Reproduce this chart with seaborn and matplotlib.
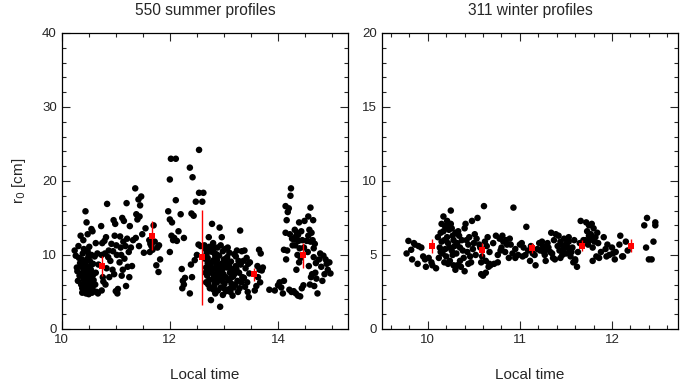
import numpy as np
import pandas as pd
import matplotlib
matplotlib.use("Agg")
import matplotlib.pyplot as plt
from matplotlib.ticker import MultipleLocator
import seaborn as sns

# summer profiles (local time, r0 in cm)
summer_pts = [
    # 10.2 - 10.7
    (10.24, 10.6), (10.26, 9.9), (10.28, 8.3), (10.29, 7.8), (10.30, 6.5), (10.31, 11.2),
    (10.33, 7.2), (10.34, 8.9), (10.35, 12.6), (10.36, 6.0), (10.37, 9.4), (10.38, 7.5),
    (10.38, 5.5), (10.39, 10.2), (10.40, 12.0), (10.40, 8.1), (10.41, 6.6), (10.42, 5.0),
    (10.43, 9.0), (10.44, 7.0), (10.44, 15.9), (10.45, 4.8), (10.46, 14.4), (10.46, 8.4),
    (10.47, 6.2), (10.48, 10.5), (10.48, 5.3), (10.49, 9.6), (10.50, 7.7), (10.50, 4.7),
    (10.51, 11.1), (10.52, 6.8), (10.52, 9.2), (10.53, 5.6), (10.54, 8.0), (10.55, 13.5),
    (10.55, 10.0), (10.56, 6.3), (10.56, 4.9), (10.57, 13.2), (10.58, 7.3), (10.58, 8.8),
    (10.60, 5.1), (10.61, 9.8), (10.62, 6.0), (10.63, 11.6), (10.63, 7.6), (10.65, 5.0),
    (10.66, 10.2), (10.67, 4.8), (10.68, 8.7), (10.45, 9.3), (10.42, 7.9), (10.47, 5.9),
    (10.40, 6.9), (10.43, 5.8), (10.46, 7.3), (10.49, 6.5), (10.51, 5.2), (10.53, 8.5),
    (10.44, 8.6), (10.50, 9.9), (10.36, 8.5), (10.32, 9.6), (10.55, 7.0), (10.57, 5.7),
    (10.41, 10.8), (10.48, 12.8), (10.59, 6.6), (10.38, 4.9),
    # 10.7 - 11.05
    (10.73, 13.9), (10.75, 11.6), (10.74, 10.0), (10.76, 7.0), (10.77, 6.4), (10.74, 5.2),
    (10.82, 12.4), (10.84, 16.9), (10.80, 10.2), (10.86, 9.7), (10.83, 8.2), (10.88, 7.0),
    (10.81, 6.0), (10.92, 11.5), (10.95, 10.5), (10.96, 14.7), (10.99, 14.2), (10.94, 8.0),
    (11.00, 5.1), (11.03, 4.8), (11.02, 10.0), (10.90, 9.2), (11.04, 5.4), (10.97, 7.4),
    (10.79, 11.9), (10.87, 10.6), (11.01, 11.3), (10.98, 12.6),
    # 11.05 - 11.35
    (11.12, 15.0), (11.20, 17.0), (11.08, 12.5), (11.14, 11.8), (11.18, 11.2), (11.10, 10.0),
    (11.16, 9.5), (11.22, 8.4), (11.11, 7.2), (11.25, 7.0), (11.19, 5.8), (11.07, 9.0),
    (11.26, 13.9), (11.28, 11.0), (11.30, 8.5), (11.24, 10.4), (11.13, 8.0), (11.32, 12.0),
    (11.09, 11.0), (11.21, 12.2), (11.15, 14.6),
    # 11.35 - 11.6
    (11.36, 19.0), (11.42, 17.5), (11.47, 17.9), (11.45, 16.7), (11.38, 15.5), (11.40, 14.8),
    (11.44, 15.2), (11.49, 12.8), (11.43, 11.2), (11.52, 10.3), (11.55, 13.6), (11.37, 12.3),
    # 11.6 - 11.85
    (11.62, 12.0), (11.64, 11.5), (11.66, 11.2), (11.68, 10.7), (11.63, 10.4), (11.72, 11.8),
    (11.75, 8.6), (11.79, 7.7), (11.82, 9.4), (11.70, 14.0), (11.77, 11.0), (11.80, 11.3),
    # 12.0 - 12.3
    (11.97, 15.9), (12.00, 20.2), (12.02, 23.0), (12.11, 23.0), (12.00, 14.8), (12.04, 14.4),
    (12.03, 12.6), (12.08, 12.3), (12.00, 10.4), (12.11, 17.4), (12.16, 13.2), (12.13, 11.9),
    (12.20, 15.5), (12.26, 12.3), (12.22, 8.1), (12.24, 6.5), (12.26, 6.0), (12.23, 5.5),
    (12.28, 6.9), (12.37, 4.8), (12.06, 12.0),
    # 12.35 - 12.6
    (12.37, 21.8), (12.42, 20.5), (12.40, 15.6), (12.44, 15.3), (12.48, 17.2), (12.54, 18.4),
    (12.62, 18.4), (12.60, 17.2), (12.54, 24.2), (12.53, 11.4), (12.57, 11.2), (12.39, 8.7),
    (12.41, 7.0), (12.50, 10.0), (12.46, 9.3),
    # 12.6 - 12.75
    (12.64, 11.3), (12.66, 10.8), (12.68, 10.2), (12.65, 9.5), (12.70, 8.9), (12.67, 8.3),
    (12.72, 7.8), (12.69, 7.2), (12.73, 6.6), (12.71, 6.0), (12.74, 5.5), (12.73, 11.1),
    (12.72, 12.4), (12.75, 10.5), (12.67, 6.3), (12.70, 9.6), (12.74, 8.6), (12.66, 7.6),
    # 12.75 - 12.9
    (12.78, 14.2), (12.80, 11.6), (12.82, 10.9), (12.79, 10.4), (12.84, 9.9), (12.81, 9.3),
    (12.86, 8.7), (12.83, 8.2), (12.88, 7.7), (12.85, 7.2), (12.80, 6.8), (12.87, 6.3),
    (12.82, 5.8), (12.89, 5.2), (12.84, 4.8), (12.76, 3.9), (12.88, 11.0), (12.77, 9.0),
    (12.79, 7.5), (12.86, 10.1), (12.78, 8.2), (12.83, 6.2), (12.87, 9.3), (12.81, 5.3),
    # 12.9 - 13.05
    (12.92, 13.7), (12.96, 12.4), (12.94, 11.3), (12.98, 10.5), (12.91, 9.9), (13.00, 9.4),
    (12.95, 8.8), (13.02, 8.4), (12.93, 7.9), (12.99, 7.4), (13.03, 7.0), (12.96, 6.5),
    (13.01, 6.1), (12.94, 5.6), (13.04, 5.1), (12.98, 4.6), (12.93, 3.0), (13.02, 10.8),
    (12.97, 8.0), (12.91, 6.8), (13.00, 5.5), (12.95, 7.2), (13.04, 9.0), (12.92, 8.5),
    # 13.05 - 13.2
    (13.07, 11.0), (13.10, 10.3), (13.06, 9.7), (13.13, 9.1), (13.09, 8.6), (13.15, 8.1),
    (13.11, 7.6), (13.17, 7.1), (13.08, 6.6), (13.14, 6.1), (13.18, 5.6), (13.12, 5.0),
    (13.16, 4.5), (13.19, 10.1), (13.06, 8.3), (13.19, 7.4), (13.10, 5.4), (13.13, 6.9),
    # 13.2 - 13.35
    (13.30, 13.3), (13.24, 10.6), (13.33, 10.5), (13.22, 9.8), (13.27, 9.2), (13.31, 8.7),
    (13.23, 8.1), (13.28, 7.6), (13.34, 7.0), (13.25, 6.5), (13.21, 6.0), (13.29, 5.5),
    (13.26, 5.0), (13.32, 6.3), (13.22, 8.5),
    # 13.35 - 13.5
    (13.38, 10.6), (13.42, 9.6), (13.36, 9.2), (13.45, 8.8), (13.40, 8.2), (13.47, 7.5),
    (13.37, 6.9), (13.43, 6.3), (13.39, 5.7), (13.44, 5.0), (13.46, 4.3), (13.48, 9.0),
    # 13.55 - 13.75
    (13.65, 10.7), (13.68, 10.2), (13.62, 8.5), (13.66, 8.0), (13.70, 7.9), (13.63, 7.0),
    (13.67, 6.3), (13.57, 5.2), (13.60, 5.8), (13.72, 8.3),
    # 13.8 - 14.1
    (13.84, 5.3), (13.94, 5.2), (14.00, 5.9), (14.03, 6.3), (14.06, 5.6), (14.09, 4.8),
    (14.11, 6.5),
    # 14.1 - 14.3
    (14.11, 10.7), (14.17, 10.6), (14.15, 9.4), (14.14, 13.0), (14.16, 14.7), (14.18, 15.8),
    (14.14, 16.6), (14.20, 16.3), (14.23, 18.0), (14.24, 19.0), (14.22, 12.8), (14.26, 12.2),
    (14.27, 11.3), (14.21, 5.3), (14.25, 5.0), (14.29, 5.1), (14.37, 4.5), (14.33, 4.8),
    # 14.3 - 14.5
    (14.31, 13.4), (14.35, 13.0), (14.33, 12.5), (14.38, 11.9), (14.32, 11.3), (14.40, 10.9),
    (14.36, 10.0), (14.42, 9.6), (14.39, 9.0), (14.34, 8.0), (14.39, 14.4), (14.49, 14.6),
    (14.56, 15.2), (14.44, 5.5), (14.47, 5.9), (14.41, 4.4), (14.45, 12.0), (14.48, 11.0),
    (14.30, 12.1), (14.37, 12.7), (14.43, 13.2),
    # 14.5 - 14.75
    (14.60, 16.4), (14.65, 14.7), (14.58, 13.4), (14.62, 13.0), (14.56, 12.6), (14.64, 12.0),
    (14.68, 11.5), (14.55, 10.4), (14.66, 9.7), (14.70, 8.9), (14.63, 7.4), (14.71, 6.8),
    (14.59, 6.0), (14.67, 5.8), (14.73, 4.8), (14.69, 7.6), (14.61, 7.0), (14.57, 8.5),
    (14.60, 11.8), (14.53, 11.9), (14.66, 10.9),
    # 14.75 - 15.0
    (14.78, 10.2), (14.84, 9.9), (14.88, 9.4), (14.95, 9.0), (14.90, 8.8), (14.80, 8.4),
    (14.97, 7.5), (14.86, 7.4), (14.82, 6.5), (14.92, 8.0), (14.76, 9.4),
]

# winter profiles
winter_pts = [
    # 9.75 - 10.1
    (9.77, 5.1), (9.79, 5.95), (9.82, 5.35), (9.83, 4.7), (9.86, 5.7), (9.89, 4.4),
    (9.90, 5.6), (9.93, 5.5), (9.95, 4.9), (9.98, 4.2), (9.97, 4.7), (10.01, 4.8),
    (10.04, 4.5), (10.05, 4.3), (10.09, 4.1), (9.85, 5.8),
    # 10.1 - 10.3
    (10.25, 8.0), (10.17, 7.6), (10.21, 7.3), (10.15, 7.1), (10.19, 6.9), (10.23, 6.7),
    (10.14, 6.5), (10.27, 6.3), (10.18, 6.0), (10.22, 5.8), (10.13, 5.5), (10.26, 5.3),
    (10.16, 5.1), (10.20, 4.9), (10.24, 4.6), (10.28, 4.3), (10.30, 4.0), (10.12, 4.8),
    (10.29, 5.6), (10.11, 6.2), (10.19, 5.4), (10.26, 6.8), (10.22, 4.4), (10.15, 5.9),
    (10.17, 6.6), (10.21, 6.2), (10.24, 5.5), (10.28, 6.0), (10.14, 5.2), (10.18, 4.5),
    (10.25, 7.1), (10.20, 7.0), (10.27, 5.0), (10.30, 6.5),
    # 10.3 - 10.55
    (10.48, 7.3), (10.54, 7.5), (10.41, 7.1), (10.40, 6.8), (10.33, 6.6), (10.45, 6.2),
    (10.37, 6.0), (10.50, 5.8), (10.35, 5.5), (10.43, 5.2), (10.52, 5.0), (10.39, 4.8),
    (10.47, 4.5), (10.32, 4.3), (10.40, 3.9), (10.36, 4.2), (10.44, 5.7), (10.51, 6.4),
    (10.31, 5.1), (10.46, 4.9), (10.34, 6.3), (10.38, 5.3), (10.42, 6.0), (10.49, 5.4),
    (10.53, 6.1), (10.35, 4.6), (10.44, 4.4), (10.32, 5.8),
    # 10.55 - 10.7
    (10.61, 8.3), (10.65, 6.2), (10.62, 5.9), (10.57, 5.5), (10.67, 5.2), (10.59, 4.9),
    (10.63, 4.6), (10.68, 4.3), (10.58, 3.7), (10.60, 3.6), (10.63, 3.8), (10.66, 4.2),
    (10.67, 4.4), (10.56, 5.7), (10.58, 4.5), (10.64, 5.6),
    # 10.7 - 11.0
    (10.74, 6.3), (10.78, 6.1), (10.82, 5.9), (10.86, 5.7), (10.80, 5.5), (10.84, 5.2),
    (10.76, 5.0), (10.88, 4.8), (10.72, 4.4), (10.76, 4.5), (10.93, 8.2), (10.85, 6.0),
    (10.90, 5.7), (10.95, 5.4), (10.92, 5.1), (10.95, 4.8), (10.98, 5.0), (10.81, 6.3),
    (10.79, 5.3), (10.89, 6.1), (10.71, 5.8),
    # 11.0 - 11.2
    (11.07, 6.9), (11.00, 5.7), (11.04, 5.5), (11.09, 5.3), (11.02, 5.8), (11.03, 4.9),
    (11.11, 4.6), (11.17, 4.3), (11.14, 5.1), (11.19, 5.4), (11.21, 5.8), (11.06, 5.0),
    (11.12, 5.6), (11.16, 5.0),
    # 11.2 - 11.4
    (11.25, 5.6), (11.29, 5.4), (11.33, 5.2), (11.27, 5.0), (11.36, 4.8), (11.28, 4.6),
    (11.38, 4.7), (11.24, 5.9), (11.34, 6.5), (11.39, 6.4), (11.37, 6.0), (11.31, 5.5),
    (11.35, 5.1), (11.22, 5.3), (11.30, 5.8), (11.26, 5.2),
    # 11.4 - 11.7
    (11.42, 6.3), (11.48, 6.1), (11.53, 5.9), (11.45, 5.7), (11.57, 5.5), (11.43, 5.3),
    (11.50, 5.1), (11.55, 4.9), (11.60, 4.7), (11.58, 4.5), (11.62, 4.2), (11.60, 4.6),
    (11.53, 6.2), (11.65, 5.8), (11.47, 5.4), (11.66, 7.3), (11.41, 5.6), (11.52, 5.5),
    (11.63, 5.2), (11.69, 6.0), (11.44, 5.9), (11.49, 5.6), (11.56, 5.2), (11.46, 5.0),
    (11.51, 5.8), (11.59, 6.0), (11.44, 4.8), (11.54, 5.3),
    # 11.7 - 11.9
    (11.72, 7.2), (11.78, 7.1), (11.75, 7.0), (11.80, 6.8), (11.73, 6.6), (11.77, 6.4),
    (11.82, 6.2), (11.71, 6.0), (11.85, 5.8), (11.79, 5.5), (11.88, 5.2), (11.83, 4.9),
    (11.79, 4.6), (11.86, 4.8), (11.76, 6.0), (11.74, 5.7), (11.78, 6.1), (11.81, 5.9),
    (11.75, 6.3), (11.84, 6.5),
    # 11.9 - 12.2
    (11.91, 6.2), (12.09, 6.3), (11.95, 5.7), (12.00, 5.5), (12.04, 5.2), (11.97, 5.0),
    (12.03, 4.7), (12.11, 4.9), (11.93, 5.4), (12.08, 5.7), (12.12, 4.9), (12.15, 5.9),
    (12.17, 5.3), (12.01, 5.1), (11.94, 4.9),
    # 12.3 - 12.45
    (12.35, 7.0), (12.38, 7.5), (12.37, 5.5), (12.40, 4.7), (12.43, 4.7), (12.45, 5.9),
    (12.47, 7.2), (12.47, 7.0),
]

# binned means (red squares) with their spread
summer_mean_t = [10.74, 11.67, 12.60, 13.55, 14.47]
summer_mean_r = [8.5, 12.6, 9.7, 7.4, 10.0]
summer_err_lo = [7.1, 10.7, 3.2, 6.5, 8.3]
summer_err_hi = [9.9, 14.6, 16.1, 8.3, 11.6]

winter_mean_t = [10.05, 10.59, 11.13, 11.67, 12.21]
winter_mean_r = [5.63, 5.36, 5.47, 5.63, 5.63]
winter_err_lo = [5.1, 4.9, 5.1, 5.25, 5.2]
winter_err_hi = [6.1, 5.8, 5.8, 6.0, 6.1]

summer = pd.DataFrame(summer_pts, columns=["time", "r0"])
winter = pd.DataFrame(winter_pts, columns=["time", "r0"])

sns.set_style("ticks")
plt.rcParams["font.family"] = ["Liberation Sans", "DejaVu Sans"]

fig = plt.figure(figsize=(6.9, 3.87), dpi=100)
ax1 = fig.add_axes([0.0894, 0.150, 0.4154, 0.7648])
ax2 = fig.add_axes([0.5532, 0.150, 0.4299, 0.7648])


def draw(ax, df, mt, mr, lo, hi, title):
    sns.scatterplot(data=df, x="time", y="r0", ax=ax, color="black", s=22,
                    edgecolor="none", linewidth=0, legend=False, zorder=2)
    mr = np.array(mr)
    yerr = [mr - np.array(lo), np.array(hi) - mr]
    ax.errorbar(mt, mr, yerr=yerr, fmt="s", color="red", ms=5, mew=0,
                elinewidth=1.0, capsize=0, zorder=3)
    ax.set_title(title, fontsize=11.2, pad=13)
    ax.set_xlabel("Local time", fontsize=11, labelpad=16)
    ax.set_ylabel("")
    ax.tick_params(which="both", direction="in", top=True, right=True,
                   labelsize=9.5, width=0.8)
    ax.tick_params(which="major", length=6)
    ax.tick_params(which="minor", length=3)
    for sp in ax.spines.values():
        sp.set_linewidth(0.9)
        sp.set_color("black")


draw(ax1, summer, summer_mean_t, summer_mean_r, summer_err_lo, summer_err_hi,
     "550 summer profiles")
ax1.set_xlim(10, 15.3)
ax1.set_ylim(0, 40)
ax1.xaxis.set_major_locator(MultipleLocator(2))
ax1.xaxis.set_minor_locator(MultipleLocator(0.5))
ax1.yaxis.set_major_locator(MultipleLocator(10))
ax1.yaxis.set_minor_locator(MultipleLocator(2))
ax1.set_ylabel("r$_0$ [cm]", fontsize=11, labelpad=10)

draw(ax2, winter, winter_mean_t, winter_mean_r, winter_err_lo, winter_err_hi,
     "311 winter profiles")
ax2.set_xlim(9.5, 12.72)
ax2.set_ylim(0, 20)
ax2.xaxis.set_major_locator(MultipleLocator(1))
ax2.xaxis.set_minor_locator(MultipleLocator(0.2))
ax2.yaxis.set_major_locator(MultipleLocator(5))
ax2.yaxis.set_minor_locator(MultipleLocator(1))

fig.savefig("out.png", dpi=100)
